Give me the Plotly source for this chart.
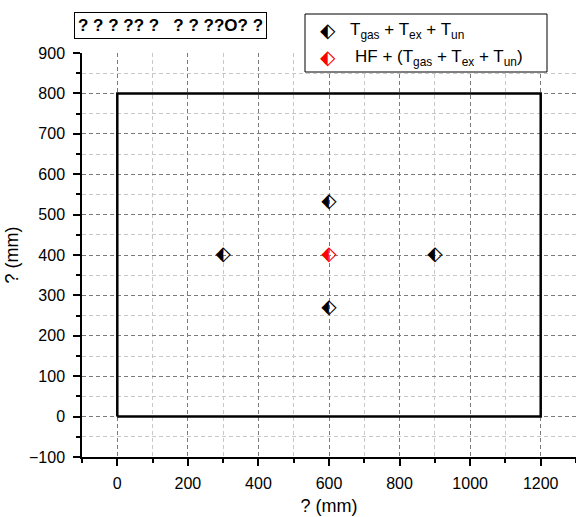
import plotly.graph_objects as go

# data
tc_x = [300, 600, 600, 900]
tc_y = [400, 530, 270, 400]
hf_x = [600]
hf_y = [400]
rect_x = [0, 1200, 1200, 0, 0]
rect_y = [0, 0, 800, 800, 0]
series_names = ["T<sub>gas</sub> + T<sub>ex</sub> + T<sub>un</sub>",
                "HF + (T<sub>gas</sub> + T<sub>ex</sub> + T<sub>un</sub>)"]
title_text = "<b>? ? ? ?? ?   ? ? ??O? ?</b>"
x_title = "? (mm)"
y_title = "? (mm)"

FONT = "Arial, Liberation Sans, sans-serif"
GLYPH = "\u2b16"
GSIZE = 20

fig = go.Figure()
fig.add_trace(go.Scatter(x=rect_x, y=rect_y, mode="lines",
                         line=dict(color="black", width=2.5), showlegend=False,
                         hoverinfo="skip"))
fig.add_trace(go.Scatter(x=tc_x, y=tc_y, mode="text", text=[GLYPH] * len(tc_x),
                         textfont=dict(family="DejaVu Sans", size=GSIZE, color="black"),
                         name=series_names[0], showlegend=False))
fig.add_trace(go.Scatter(x=hf_x, y=hf_y, mode="text", text=[GLYPH] * len(hf_x),
                         textfont=dict(family="DejaVu Sans", size=GSIZE, color="red"),
                         name=series_names[1], showlegend=False))

axis_common = dict(
    showline=True, linecolor="black", linewidth=1.5, mirror=False,
    ticks="outside", ticklen=7, tickwidth=1.5, tickcolor="black",
    showgrid=True, gridcolor="#7a7a7a", griddash="4px,3px", gridwidth=1,
    zeroline=False,
    tickfont=dict(family=FONT, size=16, color="black"),
    minor=dict(ticks="outside", ticklen=4, tickwidth=1.5, tickcolor="black",
               showgrid=True, gridcolor="#c8c8c8", griddash="4px,3px", gridwidth=1),
)

fig.update_xaxes(range=[-100, 1300], tick0=0, dtick=200,
                 title=dict(text=x_title, font=dict(family=FONT, size=18, color="black"), standoff=8),
                 ticklabelstandoff=4, **axis_common)
fig.update_xaxes(minor=dict(dtick=100, tick0=0))
fig.update_yaxes(range=[-100, 900], tick0=0, dtick=100,
                 title=dict(text=y_title, font=dict(family=FONT, size=18, color="black"), standoff=6),
                 ticklabelstandoff=5, **axis_common)
fig.update_yaxes(minor=dict(dtick=50, tick0=0))

# legend box (manual)
L, R_, T_, B_ = 82, 576, 53, 457
pw, ph = R_ - L, B_ - T_
def px(x): return (x - L) / pw
def py(y): return (B_ - y) / ph

fig.add_shape(type="rect", xref="paper", yref="paper",
              x0=px(305), x1=px(547), y0=py(72), y1=py(14),
              line=dict(color="black", width=1), fillcolor="white", layer="above")
ann = []
ann.append(dict(xref="paper", yref="paper", x=px(328), y=py(30), text=GLYPH,
                showarrow=False, xanchor="center", yanchor="middle",
                font=dict(family="DejaVu Sans", size=GSIZE, color="black")))
ann.append(dict(xref="paper", yref="paper", x=px(328), y=py(57), text=GLYPH,
                showarrow=False, xanchor="center", yanchor="middle",
                font=dict(family="DejaVu Sans", size=GSIZE, color="red")))
ann.append(dict(xref="paper", yref="paper", x=px(348), y=py(31), text=series_names[0],
                showarrow=False, xanchor="left", yanchor="middle",
                font=dict(family=FONT, size=17, color="black")))
ann.append(dict(xref="paper", yref="paper", x=px(353), y=py(58), text=series_names[1],
                showarrow=False, xanchor="left", yanchor="middle",
                font=dict(family=FONT, size=17, color="black")))
ann.append(dict(xref="paper", yref="paper", x=px(170), y=py(26), text=title_text,
                showarrow=False, xanchor="center", yanchor="middle",
                bordercolor="black", borderwidth=1, borderpad=3, bgcolor="white",
                font=dict(family=FONT, size=17, color="black")))

fig.update_layout(
    width=576, height=517,
    margin=dict(l=L, r=576 - R_, t=T_, b=517 - B_, autoexpand=False),
    paper_bgcolor="white", plot_bgcolor="white",
    showlegend=False, annotations=ann,
)

fig.write_html("out.html")
